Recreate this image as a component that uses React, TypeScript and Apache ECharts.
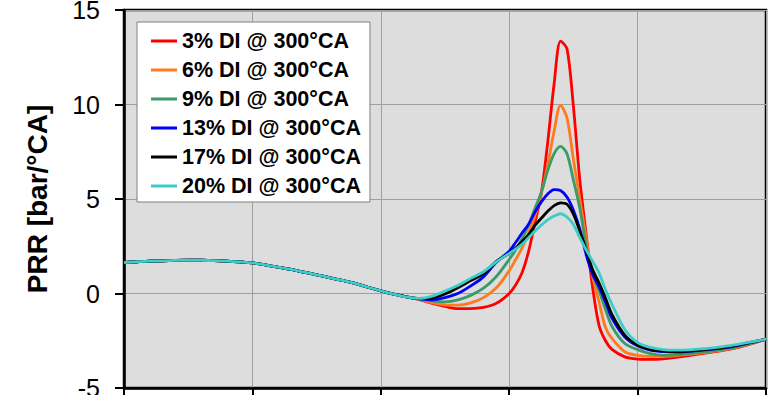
import React, { useEffect, useRef } from "react";
import * as echarts from "echarts";

const FONT = "'Liberation Sans', Arial, Helvetica, sans-serif";

// Crank angle [°CA]
const angles: number[] = [
  330, 331, 332, 333, 334, 335, 336, 337, 338, 339, 340, 341, 342, 343, 344, 345, 346, 347, 348, 349, 350, 351, 352,
  353, 354, 355, 356, 357, 358, 359, 360, 360.5, 361, 361.5, 362, 362.5, 363, 363.5, 364, 364.5, 365, 365.5, 366,
  366.5, 367, 367.5, 368, 369, 370, 371, 372, 373, 374, 375, 376, 377, 378, 379, 380,
];

// Part shared by all curves (330..352 °CA)
const commonHead: number[] = [
  1.63, 1.68, 1.71, 1.73, 1.75, 1.76, 1.76, 1.74, 1.71, 1.67, 1.62, 1.51, 1.39, 1.27, 1.13, 0.99, 0.84, 0.69, 0.54,
  0.33, 0.14, -0.03, -0.18,
];

// 353..380 °CA
const di3: number[] = [
  -0.32, -0.52, -0.68, -0.8, -0.8, -0.74, -0.52, 0.0, 0.45, 1.1, 2.2, 3.7, 5.3, 8.0, 11.1, 13.35, 12.95, 9.9, 6.0,
  3.1, 0.3, -1.7, -2.5, -2.96, -3.35, -3.47, -3.49, -3.46, -3.38, -3.28, -3.18, -3.08, -2.97, -2.82, -2.63, -2.42,
];
const di6: number[] = [
  -0.3, -0.5, -0.6, -0.62, -0.5, -0.22, 0.3, 1.2, 1.8, 2.4, 3.2, 4.1, 5.3, 6.8, 8.6, 9.95, 9.3, 7.1, 5.0, 2.9, 0.9,
  -0.45, -1.8, -2.38, -3.08, -3.28, -3.33, -3.32, -3.28, -3.22, -3.14, -3.05, -2.95, -2.8, -2.62, -2.42,
];
const di9: number[] = [
  -0.3, -0.4, -0.44, -0.34, -0.1, 0.28, 0.9, 1.8, 2.3, 2.9, 3.6, 4.5, 5.35, 6.5, 7.4, 7.78, 7.4, 6.0, 4.5, 2.5, 1.05,
  0.15, -0.85, -1.73, -2.65, -2.97, -3.18, -3.27, -3.25, -3.18, -3.1, -3.02, -2.92, -2.78, -2.6, -2.42,
];
const di13: number[] = [
  -0.28, -0.34, -0.22, 0.0, 0.4, 0.88, 1.65, 2.24, 2.7, 3.2, 3.65, 4.3, 4.85, 5.27, 5.5, 5.45, 5.1, 4.4, 3.4, 2.05,
  1.0, 0.35, -0.45, -1.3, -2.3, -2.77, -3.0, -3.08, -3.1, -3.06, -3.0, -2.93, -2.85, -2.72, -2.57, -2.42,
];
const di17: number[] = [
  -0.27, -0.24, -0.03, 0.3, 0.68, 1.05, 1.7, 2.12, 2.4, 2.75, 3.1, 3.6, 3.98, 4.35, 4.65, 4.8, 4.72, 4.2, 3.3, 2.3,
  1.25, 0.55, -0.25, -1.1, -2.2, -2.73, -2.96, -3.05, -3.08, -3.05, -2.98, -2.92, -2.83, -2.7, -2.56, -2.42,
];
const di20: number[] = [
  -0.26, -0.14, 0.13, 0.42, 0.8, 1.15, 1.68, 2.12, 2.35, 2.6, 2.95, 3.3, 3.62, 3.9, 4.1, 4.22, 4.05, 3.65, 2.95, 2.3,
  1.7, 1.08, 0.2, -0.57, -1.9, -2.6, -2.85, -2.97, -3.0, -2.98, -2.93, -2.86, -2.77, -2.66, -2.54, -2.42,
];

const seriesNames: string[] = [
  "3% DI @ 300°CA",
  "6% DI @ 300°CA",
  "9% DI @ 300°CA",
  "13% DI @ 300°CA",
  "17% DI @ 300°CA",
  "20% DI @ 300°CA",
];
const seriesColors: string[] = ["#ff0000", "#ff7a1f", "#3a9a68", "#0000ff", "#000000", "#3dcdc8"];
const seriesTails: number[][] = [di3, di6, di9, di13, di17, di20];

const yTicks = { min: -5, max: 15, interval: 5 };
const xTicks = { min: 330, max: 380, interval: 10 };

export default function App() {
  const ref = useRef<HTMLDivElement>(null);

  useEffect(() => {
    if (!ref.current) return;
    document.documentElement.style.overflow = "hidden";
    document.body.style.overflow = "hidden";
    const chart = echarts.init(ref.current, undefined, { renderer: "svg" });

    const series = seriesNames.map((name, i) => {
      const ys = commonHead.concat(seriesTails[i]);
      return {
        name,
        type: "line",
        data: angles.map((a, k) => [a, ys[k]]),
        showSymbol: false,
        symbol: "none",
        smooth: 0.3,
        lineStyle: { color: seriesColors[i], width: 2.8 },
        itemStyle: { color: seriesColors[i] },
      };
    });

    chart.setOption({
      animation: false,
      backgroundColor: "#ffffff",
      grid: {
        left: 124,
        right: 5,
        top: 10,
        bottom: 7,
        containLabel: false,
        outerBoundsMode: "none",
        show: true,
        backgroundColor: "#dddddd",
        borderColor: "#000000",
        borderWidth: 2.5,
      },
      legend: {
        orient: "vertical",
        left: 137,
        top: 22,
        backgroundColor: "#ffffff",
        borderColor: "#808080",
        borderWidth: 1,
        padding: [8, 9, 5, 14],
        itemGap: 7,
        itemWidth: 26,
        itemHeight: 3,
        icon: "rect",
        textStyle: { fontSize: 21.5, fontWeight: "bold", color: "#000000", fontFamily: FONT },
        data: seriesNames,
      },
      xAxis: {
        type: "value",
        min: xTicks.min,
        max: xTicks.max,
        interval: xTicks.interval,
        axisLine: { show: true, onZero: false, lineStyle: { color: "#000000", width: 2.5 } },
        axisTick: { show: true, length: 8, lineStyle: { color: "#000000", width: 2 } },
        axisLabel: { show: false },
        splitLine: { show: true, lineStyle: { color: "#9f9f9f", width: 1 } },
      },
      yAxis: {
        type: "value",
        min: yTicks.min,
        max: yTicks.max,
        interval: yTicks.interval,
        name: "PRR [bar/°CA]",
        nameLocation: "middle",
        nameGap: 73,
        nameTextStyle: { fontSize: 28, fontWeight: "bold", color: "#000000", fontFamily: FONT },
        axisLine: { show: true, onZero: false, lineStyle: { color: "#000000", width: 2.5 } },
        axisTick: { show: true, length: 9, lineStyle: { color: "#000000", width: 2 } },
        axisLabel: { fontSize: 25, margin: 24, color: "#000000", fontFamily: FONT },
        splitLine: { show: true, lineStyle: { color: "#9f9f9f", width: 1 } },
      },
      series,
    });

    return () => chart.dispose();
  }, []);

  return (
    <div
      ref={ref}
      style={{ position: "absolute", left: 0, top: 0, width: 771, height: 395, overflow: "hidden" }}
    />
  );
}
